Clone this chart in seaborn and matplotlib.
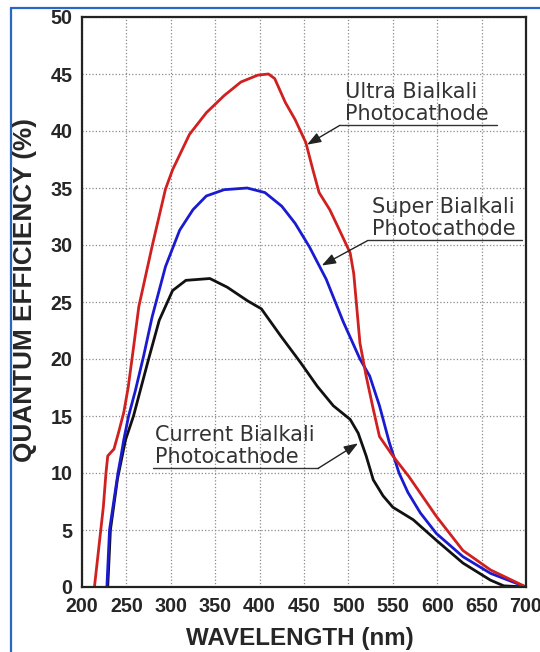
import matplotlib
matplotlib.use("Agg")
import matplotlib.pyplot as plt
from matplotlib.lines import Line2D
from matplotlib.ticker import MultipleLocator
import pandas as pd
import seaborn as sns

# Quantum efficiency curves of three bialkali photocathodes
ultra_wl = [214, 219, 224, 227, 229, 236, 241, 247, 252, 258, 264, 279, 294, 302,
            321, 340, 360, 379, 398, 410, 417, 429, 440, 452, 460, 467, 479, 490,
            502, 506, 513, 520, 528, 535, 550, 568, 599, 629, 660, 700]
ultra_qe = [0, 3.5, 7, 10, 11.5, 12.1, 13.5, 15.3, 17.5, 21, 24.6, 29.9, 34.9, 36.6,
            39.7, 41.6, 43.1, 44.3, 44.9, 45.0, 44.6, 42.5, 41.0, 39.0, 36.6, 34.6, 33.1, 31.3,
            29.3, 27.5, 21.4, 18.5, 15.6, 13.2, 11.5, 9.7, 6.2, 3.2, 1.5, 0]

super_wl = [228, 231, 240.5, 244, 247, 252.5, 260, 269.5, 279, 294, 310, 325, 340,
            360, 386, 406, 425, 440, 456, 475, 494, 513, 524, 535, 546, 557, 567,
            581, 599, 629, 660, 700]
super_qe = [0, 5, 10, 11.5, 12.9, 15, 17.2, 20.3, 23.7, 28.1, 31.3, 33.1, 34.3,
            34.85, 35.0, 34.6, 33.4, 31.9, 29.85, 27.0, 23.3, 20.0, 18.5, 15.9, 12.7, 10.0, 8.3,
            6.5, 4.7, 2.66, 1.2, 0]

current_wl = [229, 232, 240, 249, 258, 275, 287, 302, 317, 344, 363.5, 386.5, 402,
              424, 446, 465, 483, 502, 511, 520, 528, 539, 550, 573, 599, 629, 660,
              675, 700]
current_qe = [0, 5, 9.5, 12.9, 15, 20, 23.4, 26.0, 26.9, 27.06, 26.3, 25.1, 24.4,
              22.0, 19.7, 17.6, 15.9, 14.7, 13.5, 11.5, 9.4, 8.0, 7.0, 5.9, 4.1, 2.1, 0.6,
              0.1, 0]

series_names = ["Current", "Super", "Ultra"]
series_colors = ["#111111", "#1a1ad0", "#d02020"]

x_ticks = list(range(200, 701, 50))
y_ticks = list(range(0, 51, 5))

df = pd.concat([
    pd.DataFrame({"wavelength": current_wl, "qe": current_qe, "type": "Current"}),
    pd.DataFrame({"wavelength": super_wl, "qe": super_qe, "type": "Super"}),
    pd.DataFrame({"wavelength": ultra_wl, "qe": ultra_qe, "type": "Ultra"}),
], ignore_index=True)

sns.set_style("white")
plt.rcParams["font.family"] = ["DejaVu Sans"]

W, H = 540, 652
fig = plt.figure(figsize=(W / 100, H / 100), dpi=100)
ax = fig.add_axes([82 / W, 1 - 587 / H, (526 - 82) / W, (587 - 17) / H])

sns.lineplot(data=df, x="wavelength", y="qe", hue="type", hue_order=series_names,
             palette=dict(zip(series_names, series_colors)), sort=False,
             estimator=None, legend=False, linewidth=2.0, ax=ax)
for ln in ax.get_lines():
    ln.set_solid_joinstyle("round")

ax.set_xlim(200, 700)
ax.set_ylim(0, 50)
ax.set_xticks(x_ticks)
ax.set_yticks(y_ticks)
ax.xaxis.set_minor_locator(MultipleLocator(10))
ax.yaxis.set_minor_locator(MultipleLocator(1))
ax.grid(True, which="major", color="#8a8a8a", linestyle=":", linewidth=0.9)
ax.tick_params(which="both", direction="in", top=False, right=False, color="#222222")
ax.tick_params(which="major", length=7, width=1.0, pad=7)
ax.tick_params(which="minor", length=5, width=0.9)
for lab in ax.get_xticklabels() + ax.get_yticklabels():
    lab.set_fontfamily("Liberation Sans")
    lab.set_fontweight("bold")
    lab.set_fontsize(14.2)
for sp in ax.spines.values():
    sp.set_color("#222222")
    sp.set_linewidth(1.6)
ax.set_xlabel("")
ax.set_ylabel("")

fig.text(300 / W, 1 - 639 / H, "WAVELENGTH (nm)", ha="center", va="center",
         fontfamily="Liberation Sans", fontweight="bold", fontsize=17.4)
fig.text(25 / W, 1 - 290 / H, "QUANTUM EFFICIENCY (%)", ha="center", va="center",
         rotation=90, fontfamily="Liberation Sans", fontweight="bold", fontsize=18.8)

# Curve labels: text, underline and arrow to the curve
labels = [
    ("Ultra Bialkali\nPhotocathode", 496.2, 40.5, 490.5, 667, (453.4, 38.8)),
    ("Super Bialkali\nPhotocathode", 526.6, 30.4, 522, 695.5, (470, 28.2)),
    ("Current Bialkali\nPhotocathode", 282.2, 10.4, 280, 465.8, (510.8, 12.6)),
]
for text, tx, uy, ux0, ux1, tip in labels:
    ax.text(tx, uy + 0.1, text, ha="left", va="bottom", fontsize=15,
            color="#333333", linespacing=1.15)
    ax.plot([ux0, ux1], [uy, uy], color="#333333", linewidth=1.0, zorder=4)
    end = (ux1, uy) if text.startswith("Current") else (ux0, uy)
    ax.annotate("", xy=tip, xytext=end,
                arrowprops=dict(arrowstyle="-|>,head_length=0.6,head_width=0.22",
                                color="#222222", linewidth=1.0, shrinkA=0, shrinkB=0,
                                mutation_scale=14), zorder=4)

# Page frame
fig.add_artist(Line2D([11 / W, 11 / W], [0, 1 - 8 / H], transform=fig.transFigure,
                      color="#2a66c4", linewidth=1.6))
fig.add_artist(Line2D([11 / W, 1], [1 - 8 / H, 1 - 8 / H], transform=fig.transFigure,
                      color="#2a66c4", linewidth=1.6))

fig.savefig("out.png", dpi=100, facecolor="white")
